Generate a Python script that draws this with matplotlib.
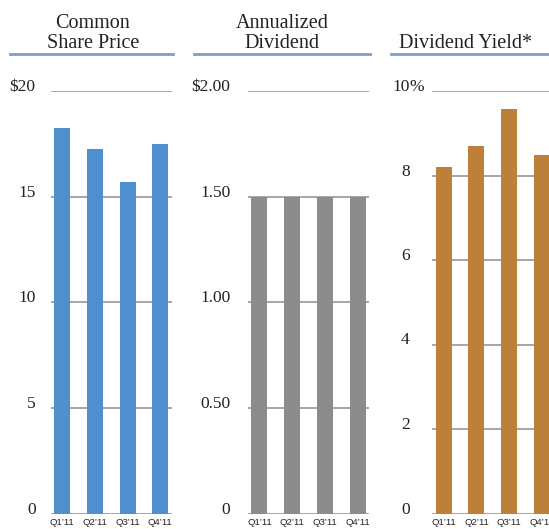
import numpy as np
import matplotlib
matplotlib.use("Agg")
import matplotlib.pyplot as plt
from matplotlib.transforms import ScaledTranslation

# data
quarters = ["Q1\u201911", "Q2\u201911", "Q3\u201911", "Q4\u201911"]
share_price = [18.25, 17.25, 15.7, 17.5]
dividend = [1.50, 1.50, 1.50, 1.50]
div_yield = [8.19, 8.69, 9.58, 8.49]

price_ticks = [0, 5, 10, 15, 20]
price_labels = ["0", "5", "10", "15", "$20"]
div_ticks = [0, 0.5, 1.0, 1.5, 2.0]
div_labels = ["0", "0.50", "1.00", "1.50", "$2.00"]
yield_ticks = [0, 2, 4, 6, 8, 10]
yield_labels = ["0", "2", "4", "6", "8", "10"]

W, H = 549, 529
fig = plt.figure(figsize=(W / 100, H / 100), dpi=100)

serif = ["Liberation Serif", "DejaVu Serif"]
narrow = ["Liberation Sans", "DejaVu Sans"]
grid_col = "#a6a6a6"
head_col = "#7ba0c9"

panels = [
    dict(x0=50.7, vals=share_price, ticks=price_ticks, labels=price_labels,
         color="#4f8fcd", lab_right=35.5, title=["Common", "Share Price"], tx=93,
         hx=(9.5, 172.5)),
    dict(x0=248, vals=dividend, ticks=div_ticks, labels=div_labels,
         color="#8c8c8c", lab_right=230.5, title=["Annualized", "Dividend"], tx=282,
         hx=(193.5, 370)),
    dict(x0=432.3, vals=div_yield, ticks=yield_ticks, labels=yield_labels,
         color="#bc8039", lab_right=409.5, title=[None, "Dividend Yield*"], tx=465.5,
         hx=(391, 560)),
]

ax_w = 121.0
y_top, y_bot = 91.0, 513.5

for p in panels:
    ax = fig.add_axes([p["x0"] / W, 1 - y_bot / H, ax_w / W, (y_bot - y_top) / H])
    x = np.arange(len(quarters))
    ax.bar(x, p["vals"], width=0.49, color=p["color"], zorder=3)
    ax.set_xlim(-0.35, 3.35)
    ax.set_ylim(0, p["ticks"][-1])
    ax.set_yticks(p["ticks"])
    ax.set_yticklabels([])
    ax.yaxis.grid(True, color=grid_col, lw=1.4, zorder=0)
    ax.tick_params(length=0)
    ax.set_xticks(x)
    ax.set_xticklabels(quarters, family=narrow, fontsize=6.8, color="#222222")
    ax.tick_params(axis="x", pad=3)
    for s in ax.spines.values():
        s.set_visible(False)
    ax.set_axisbelow(True)

    # y labels drawn as text, sitting a little above the gridlines
    off = ScaledTranslation(0, 4 / 100, fig.dpi_scale_trans)
    xr = (p["lab_right"] - p["x0"]) / ax_w
    for t, lab in zip(p["ticks"], p["labels"]):
        ax.text(xr, t, lab, transform=ax.get_yaxis_transform() + off,
                ha="right", va="center", family=serif, fontsize=12.5,
                color="#222222", clip_on=False)
    if p["labels"] is yield_labels:
        ax.text(xr, p["ticks"][-1], "%", transform=ax.get_yaxis_transform() + off,
                ha="left", va="center", family=serif, fontsize=12.5,
                color="#222222", clip_on=False)

    # header
    l1, l2 = p["title"]
    if l1:
        fig.text(p["tx"] / W, 1 - 24 / H, l1, ha="center", va="center",
                 family=serif, fontsize=14.5, color="#222222")
    fig.text(p["tx"] / W, 1 - 44 / H, l2, ha="center", va="center",
             family=serif, fontsize=14.5, color="#222222")
    fig.add_artist(plt.Line2D([p["hx"][0] / W, p["hx"][1] / W], [1 - 54 / H, 1 - 54 / H],
                              color=head_col, lw=2.0, transform=fig.transFigure))

fig.savefig("out.png", dpi=100)
